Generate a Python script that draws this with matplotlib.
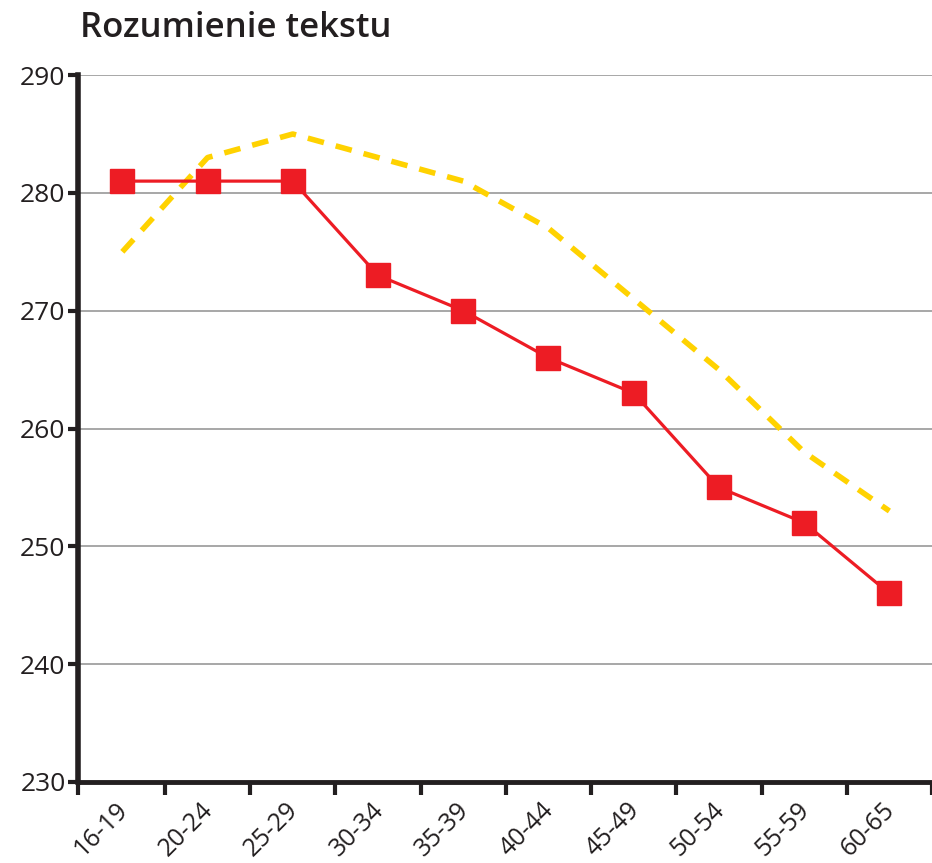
import matplotlib
matplotlib.use("Agg")
import matplotlib.pyplot as plt
import matplotlib.transforms as mtransforms
import numpy as np

categories = ["16-19", "20-24", "25-29", "30-34", "35-39", "40-44", "45-49", "50-54", "55-59", "60-65"]
red_values = [281, 281, 281, 273, 270, 266, 263, 255, 252, 246]
yellow_values = [275, 283, 285, 283, 281, 277, 271, 265, 258, 253]
y_ticks = [230, 240, 250, 260, 270, 280, 290]
title = "Rozumienie tekstu"

plt.rcParams['font.family'] = ['Open Sans', 'DejaVu Sans']

fig = plt.figure(figsize=(9.32, 8.63), dpi=100)
ax = fig.add_axes([0.0837, 0.0939, 1.0 - 0.0837, 0.913 - 0.0939])

x = np.arange(len(categories))
xmin = -0.52
ax.set_xlim(xmin, len(categories) - 0.5)
ax.set_ylim(230, 290)

for yt in y_ticks[1:]:
    ax.axhline(yt, color="#a0a0a0", lw=1.3, zorder=1)

ax.plot(x, yellow_values, color="#ffd200", lw=4, dashes=(3, 2.2), zorder=2)
ax.plot(x, red_values, color="#ed1c24", lw=2.3, marker="s", markersize=17,
        markerfacecolor="#ed1c24", markeredgecolor="#ed1c24", zorder=3)

for s in ["top", "right"]:
    ax.spines[s].set_visible(False)
ax.spines["left"].set_linewidth(4)
ax.spines["bottom"].set_linewidth(3.5)
ax.spines["left"].set_color("#231f20")
ax.spines["bottom"].set_color("#231f20")

ax.set_yticks(y_ticks)
ax.set_yticklabels([str(v) for v in y_ticks], fontsize=19, fontweight="medium", color="#231f20")
ax.tick_params(axis="y", direction="out", length=7, width=3, color="#231f20", pad=2)

ax.set_xticks(x)
ax.set_xticklabels(categories, rotation=45, ha="right", va="top",
                   rotation_mode="anchor", fontsize=18, fontweight="medium", color="#231f20")
ax.tick_params(axis="x", which="major", length=0, pad=11)
ax.set_xticks([xmin] + list(np.arange(len(categories)) + 0.5), minor=True)
ax.tick_params(axis="x", which="minor", direction="out", length=9, width=3, color="#231f20")
for lbl in ax.get_xticklabels():
    lbl.set_transform(lbl.get_transform() + mtransforms.ScaledTranslation(-0.07, 0, fig.dpi_scale_trans))

fig.text(0.086, 1 - 28 / 863, title, fontsize=25, fontweight="semibold",
         color="#231f20", ha="left", va="center")

fig.savefig("out.png", dpi=100)
